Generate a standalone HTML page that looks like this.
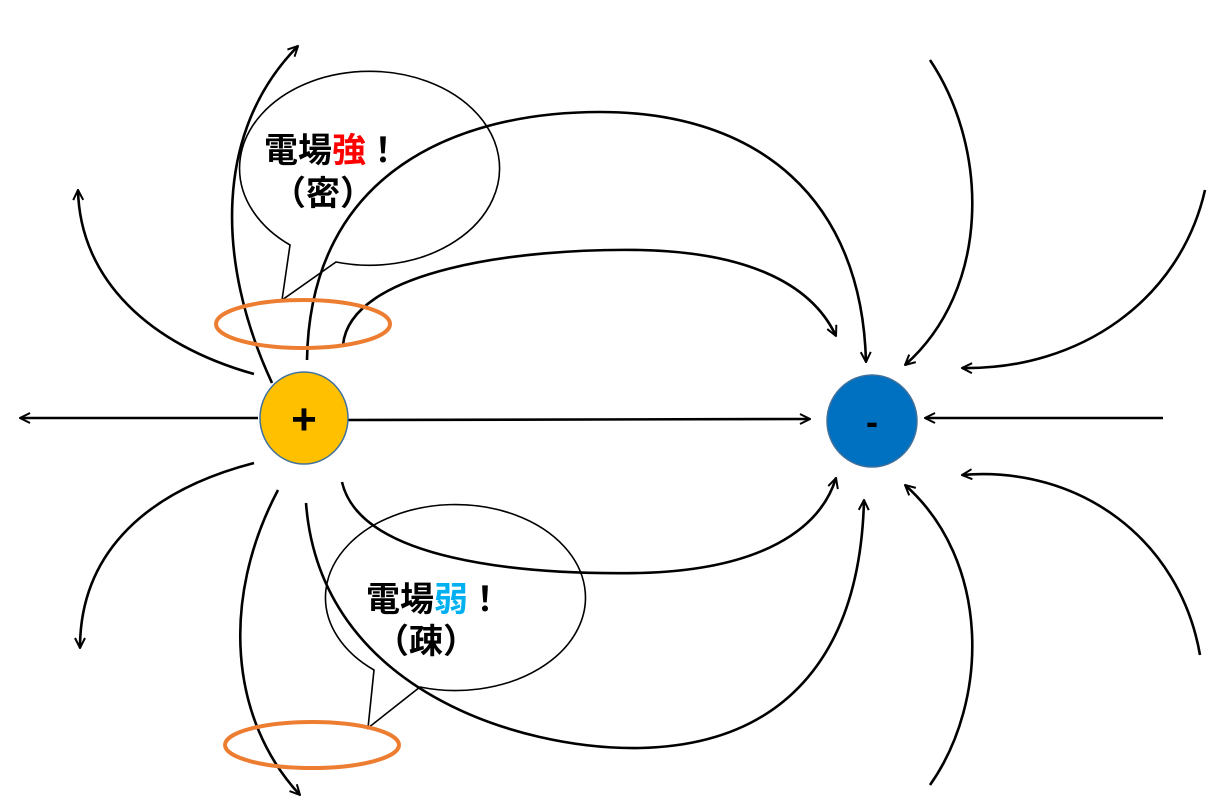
<!DOCTYPE html>
<html><head><meta charset="utf-8"><style>
body{margin:0;background:#fff}
svg{display:block}
text{font-family:"Liberation Sans","Noto Sans CJK JP",sans-serif;font-weight:bold}
</style></head><body>
<svg width="1230" height="806" viewBox="0 0 1230 806">
<defs>
<marker id="a" viewBox="0 0 12 12" refX="11" refY="6" markerWidth="12" markerHeight="12" markerUnits="userSpaceOnUse" orient="auto">
<path d="M1,1 L11,6 L1,11" fill="none" stroke="#000" stroke-width="2"/>
</marker>
</defs>
<g fill="none" stroke="#000" stroke-width="2.6">
<path d="M258,418 L20,418" marker-end="url(#a)"/>
<path d="M340,420 L810,419" marker-end="url(#a)"/>
<path d="M254,374 C150,345 80,280 78,190" marker-end="url(#a)"/>
<path d="M272,383 C215,260 215,130 298,46" marker-end="url(#a)"/>
<path d="M307,360 C310,170 460,112 600,112 C760,112 862,200 866,362" marker-end="url(#a)"/>
<path d="M343,345 C350,270 520,248 640,250 C740,252 810,280 836,336" marker-end="url(#a)"/>
<path d="M254,463 C150,490 80,550 80,648" marker-end="url(#a)"/>
<path d="M278,490 C220,600 230,720 300,795" marker-end="url(#a)"/>
<path d="M306,503 C320,690 520,750 640,748 C780,745 860,660 864,500" marker-end="url(#a)"/>
<path d="M342,482 C360,560 520,575 640,573 C760,570 820,530 836,478" marker-end="url(#a)"/>
<path d="M1163,418 L925,418" marker-end="url(#a)"/>
<path d="M930,60 C990,150 990,290 905,365" marker-end="url(#a)"/>
<path d="M1205,190 C1180,300 1080,370 962,368" marker-end="url(#a)"/>
<path d="M1200,655 C1180,540 1080,465 962,475" marker-end="url(#a)"/>
<path d="M930,785 C990,700 990,560 905,485" marker-end="url(#a)"/>
</g>
<g fill="none" stroke="#000" stroke-width="1.6">
<path d="M290,245 A130,97 0 1 1 336,262 L282,300 Z"/>
<path d="M374,670 A130,93 0 1 1 420,687 L368,728 Z"/>
</g>
<ellipse cx="303" cy="324" rx="87" ry="24" fill="none" stroke="#ed7d31" stroke-width="4"/>
<ellipse cx="312" cy="745" rx="87" ry="23" fill="none" stroke="#ed7d31" stroke-width="4"/>
<ellipse cx="304" cy="418" rx="44" ry="46" fill="#ffc000" stroke="#41719c" stroke-width="1.5"/>
<ellipse cx="872" cy="421" rx="45" ry="46" fill="#0070c0" stroke="#41719c" stroke-width="1.5"/>
<text x="304" y="434" font-size="44" text-anchor="middle" font-weight="normal">+</text>
<text x="872" y="434" font-size="36" text-anchor="middle" font-weight="normal">-</text>
<text x="264" y="162" font-size="34">電場<tspan fill="#ff0000">強</tspan>！</text>
<text x="272" y="205" font-size="34">（密）</text>
<text x="366" y="611" font-size="34">電場<tspan fill="#00b0f0">弱</tspan>！</text>
<text x="375" y="653" font-size="34">（疎）</text>
</svg>
</body></html>
